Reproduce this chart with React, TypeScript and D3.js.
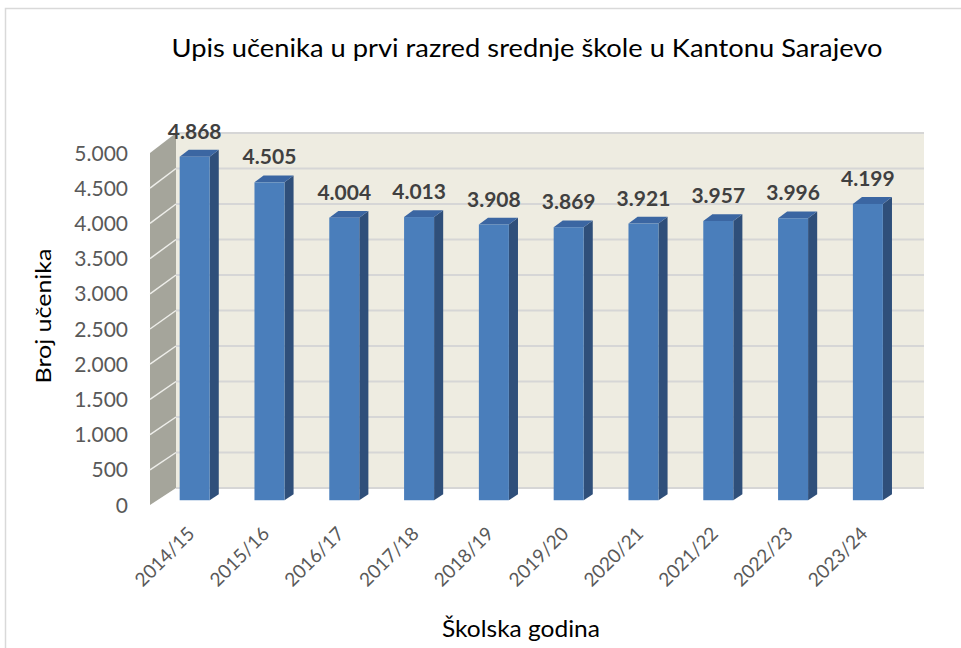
import React from "react";
import * as d3 from "d3";

const categories = ["2014/15", "2015/16", "2016/17", "2017/18", "2018/19", "2019/20", "2020/21", "2021/22", "2022/23", "2023/24"];
const values = [4868, 4505, 4004, 4013, 3908, 3869, 3921, 3957, 3996, 4199];
const yTicks = [0, 500, 1000, 1500, 2000, 2500, 3000, 3500, 4000, 4500, 5000];
const titleText = "Upis učenika u prvi razred srednje škole u Kantonu Sarajevo";
const yAxisTitle = "Broj učenika";
const xAxisTitle = "Školska godina";

const locale = d3.formatLocale({ decimal: ",", thousands: ".", grouping: [3], currency: ["", " KM"] });
const fmt = locale.format(",");

// geometry of the oblique 3D box
const X0 = 150; // front-left x
const W = 748; // plot width
const DX = 26; // depth offset in x
const FRONT_BOTTOM = 505;
const FRONT_TOP = 153;
const BACK_BOTTOM = 488;
const BACK_TOP = 133;

const xBand = d3.scaleBand<string>().domain(categories).range([0, W]).paddingInner(0).paddingOuter(0);
const yAt = (z: number) =>
  d3
    .scaleLinear()
    .domain([0, 5000])
    .range([FRONT_BOTTOM + (BACK_BOTTOM - FRONT_BOTTOM) * z, FRONT_TOP + (BACK_TOP - FRONT_TOP) * z]);
const px = (u: number, z: number) => X0 + u + DX * z;

const yFront = yAt(0);
const yBack = yAt(1);

const Z1 = 0.28;
const Z2 = 0.63;
const BAR_W = 30;

const FONT = "Lato, 'Open Sans', 'Liberation Sans', sans-serif";

export default function App() {
  const y1 = yAt(Z1);
  const y2 = yAt(Z2);
  const pts = (arr: [number, number][]) => arr.map((p) => p.join(",")).join(" ");

  return (
    <svg
      width={961}
      height={648}
      style={{ position: "absolute", left: 0, top: 0, background: "#fff" }}
      fontFamily={FONT}
    >
      <rect x={5.5} y={8.5} width={1000} height={700} fill="#fff" stroke="#d9d9d9" strokeWidth={1.5} />

      <text x={527} y={57} textAnchor="middle" fontSize={25} fill="#000" textLength={711} lengthAdjust="spacingAndGlyphs">
        {titleText}
      </text>

      {/* back wall */}
      <polygon
        points={pts([
          [px(0, 1), yBack(0)],
          [px(W, 1), yBack(0)],
          [px(W, 1), yBack(5000)],
          [px(0, 1), yBack(5000)],
        ])}
        fill="#eeece1"
      />
      {yTicks.map((t) => (
        <line key={"bg" + t} x1={px(0, 1)} x2={px(W, 1)} y1={yBack(t)} y2={yBack(t)} stroke="#d6d6d6" strokeWidth={2} />
      ))}

      {/* side wall */}
      <polygon
        points={pts([
          [px(0, 0), yFront(0)],
          [px(0, 1), yBack(0)],
          [px(0, 1), yBack(5000)],
          [px(0, 0), yFront(5000)],
        ])}
        fill="#a5a59b"
      />
      {yTicks.slice(1, -1).map((t) => (
        <line key={"sg" + t} x1={px(0, 0)} x2={px(0, 1)} y1={yFront(t)} y2={yBack(t)} stroke="#eeeeea" strokeWidth={1.5} />
      ))}

      {/* bars */}
      {categories.map((c, i) => {
        const v = values[i];
        const cu = (xBand(c) as number) + xBand.bandwidth() / 2;
        const l = cu - BAR_W / 2;
        const r = cu + BAR_W / 2;
        const fl = px(l, Z1);
        const fr = px(r, Z1);
        const bl = px(l, Z2);
        const br = px(r, Z2);
        const fb = y1(0);
        const ft = y1(v);
        const bb = y2(0);
        const bt = y2(v);
        return (
          <g key={c}>
            <polygon points={pts([[fr, fb], [br, bb], [br, bt], [fr, ft]])} fill="#2f4f7a" />
            <polygon points={pts([[fl, ft], [fr, ft], [br, bt], [bl, bt]])} fill="#3b66a2" />
            <rect x={fl} y={ft} width={fr - fl} height={fb - ft} fill="#4a7ebb" />
            <text
              x={(fl + fr) / 2}
              y={bt - 11}
              textAnchor="middle"
              fontSize={21}
              fontWeight="bold"
              fill="#404040"
            >
              {fmt(v)}
            </text>
            <text
              transform={`translate(${(fl + fr) / 2 + 1},${535}) rotate(-45)`}
              textAnchor="end"
              fontSize={19}
              fill="#595959"
            >
              {c}
            </text>
          </g>
        );
      })}

      {/* y tick labels */}
      {yTicks.map((t) => (
        <text key={"yl" + t} x={128} y={yFront(t)} dy="0.36em" textAnchor="end" fontSize={21} fill="#595959">
          {fmt(t)}
        </text>
      ))}

      <text
        transform={`translate(51,316) rotate(-90)`}
        textAnchor="middle"
        fontSize={22}
        fill="#000"
        textLength={135}
        lengthAdjust="spacingAndGlyphs"
      >
        {yAxisTitle}
      </text>
      <text x={521} y={637} textAnchor="middle" fontSize={23} fill="#000" textLength={158} lengthAdjust="spacingAndGlyphs">
        {xAxisTitle}
      </text>
    </svg>
  );
}
